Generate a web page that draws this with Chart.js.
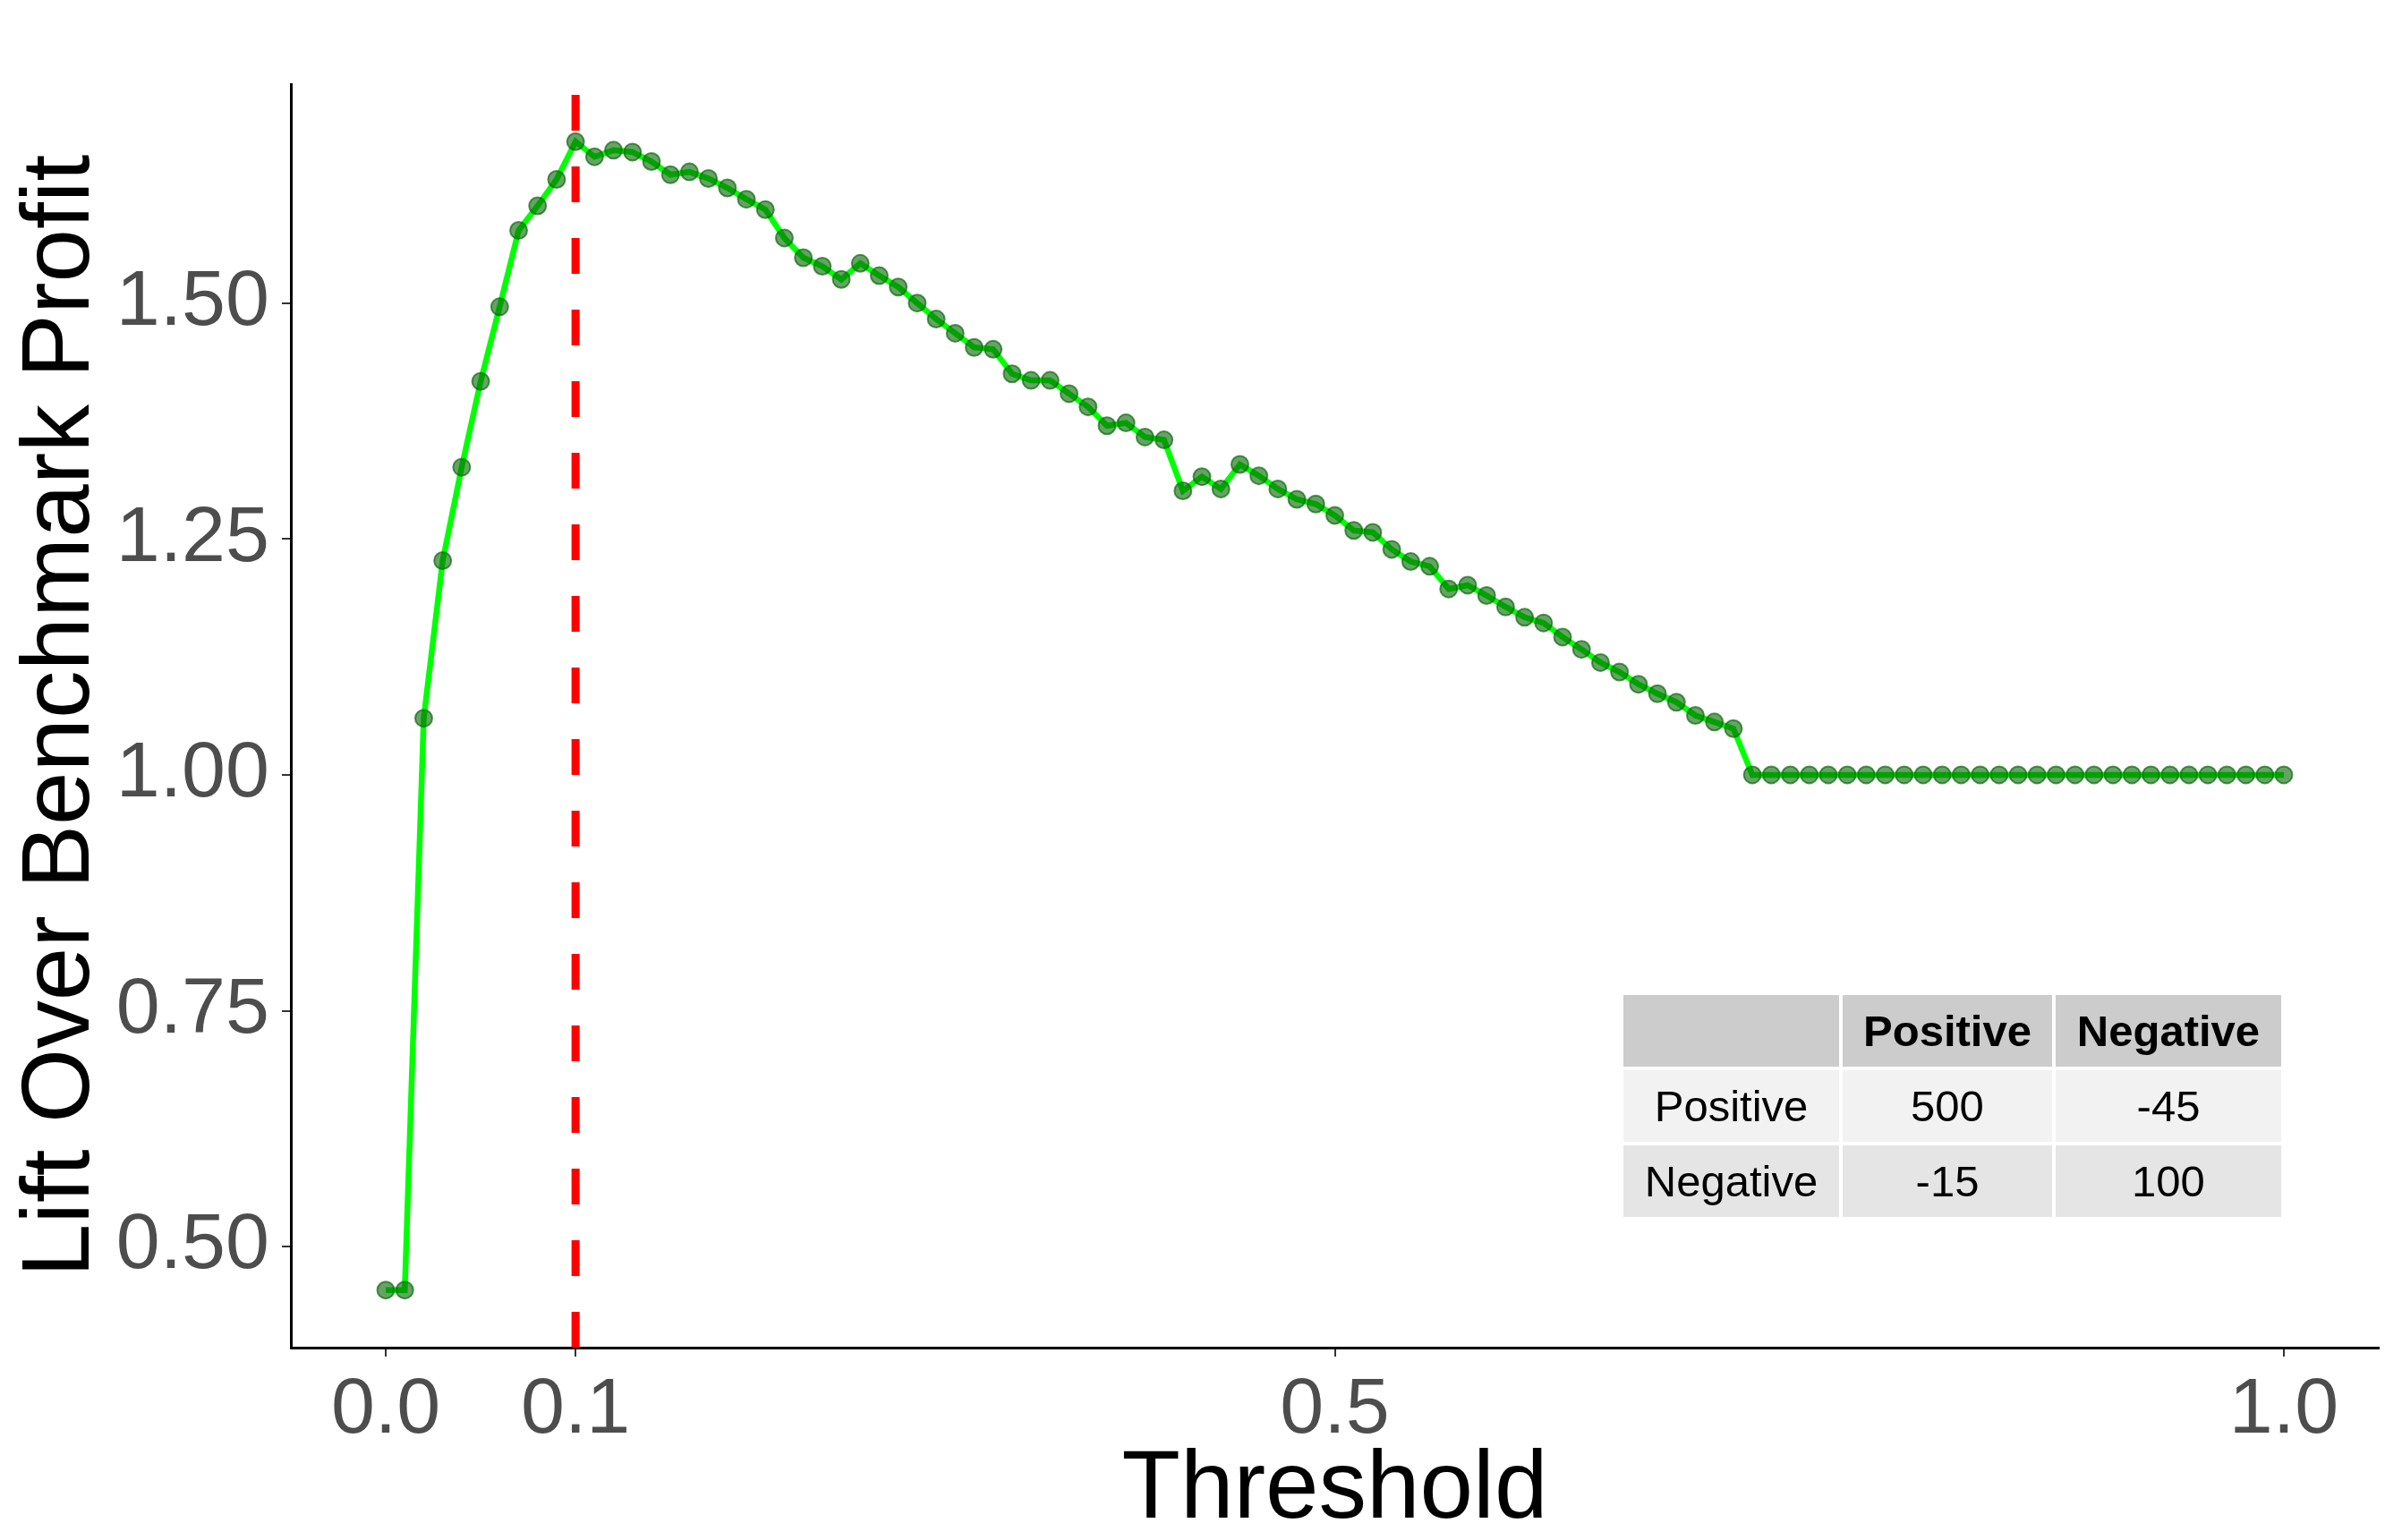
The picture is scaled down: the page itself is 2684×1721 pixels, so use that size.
<!DOCTYPE html>
<html>
<head>
<meta charset="utf-8">
<title>Lift Over Benchmark Profit</title>
<script src="https://cdn.jsdelivr.net/npm/chart.js@4.4.1/dist/chart.umd.min.js"></script>
<style>
  html, body { margin: 0; padding: 0; background: #fff; }
  #wrap { position: relative; width: 2684px; height: 1721px; }
  #payoff {
    position: absolute; left: 1810px; top: 1108px;
    border-collapse: separate; border-spacing: 4px;
    font-family: "Liberation Sans", Arial, sans-serif; font-size: 49px; color: #000;
  }
  #payoff th, #payoff td { padding: 0; height: 80px; text-align: center; vertical-align: middle; }
  #payoff th { background: #cccccc; font-weight: bold; }
  #payoff tr.r0 td { background: #f2f2f2; }
  #payoff tr.r1 td { background: #e5e5e5; }
</style>
</head>
<body>
<div id="wrap">
  <canvas id="liftChart" width="2684" height="1721"></canvas>
  <table id="payoff"></table>
</div>
<script>
// Threshold grid (x) and lift over benchmark (y)
const thresholds = [
  0.00, 0.01, 0.02, 0.03, 0.04, 0.05, 0.06, 0.07, 0.08, 0.09,
  0.10, 0.11, 0.12, 0.13, 0.14, 0.15, 0.16, 0.17, 0.18, 0.19,
  0.20, 0.21, 0.22, 0.23, 0.24, 0.25, 0.26, 0.27, 0.28, 0.29,
  0.30, 0.31, 0.32, 0.33, 0.34, 0.35, 0.36, 0.37, 0.38, 0.39,
  0.40, 0.41, 0.42, 0.43, 0.44, 0.45, 0.46, 0.47, 0.48, 0.49,
  0.50, 0.51, 0.52, 0.53, 0.54, 0.55, 0.56, 0.57, 0.58, 0.59,
  0.60, 0.61, 0.62, 0.63, 0.64, 0.65, 0.66, 0.67, 0.68, 0.69,
  0.70, 0.71, 0.72, 0.73, 0.74, 0.75, 0.76, 0.77, 0.78, 0.79,
  0.80, 0.81, 0.82, 0.83, 0.84, 0.85, 0.86, 0.87, 0.88, 0.89,
  0.90, 0.91, 0.92, 0.93, 0.94, 0.95, 0.96, 0.97, 0.98, 0.99,
  1.00
];
const lift = [
  0.454, 0.454, 1.060, 1.227, 1.326, 1.417, 1.496, 1.577, 1.603, 1.631,
  1.671, 1.655, 1.662, 1.660, 1.650, 1.636, 1.639, 1.632, 1.622, 1.610,
  1.599, 1.569, 1.548, 1.539, 1.525, 1.542, 1.529, 1.517, 1.500, 1.483,
  1.468, 1.453, 1.451, 1.425, 1.418, 1.418, 1.404, 1.390, 1.370, 1.373,
  1.358, 1.355, 1.301, 1.316, 1.303, 1.329, 1.317, 1.303, 1.292, 1.287,
  1.275, 1.259, 1.257, 1.239, 1.226, 1.221, 1.197, 1.201, 1.190, 1.178,
  1.167, 1.161, 1.146, 1.133, 1.119, 1.109, 1.096, 1.086, 1.077, 1.063,
  1.056, 1.049, 1.000, 1.000, 1.000, 1.000, 1.000, 1.000, 1.000, 1.000,
  1.000, 1.000, 1.000, 1.000, 1.000, 1.000, 1.000, 1.000, 1.000, 1.000,
  1.000, 1.000, 1.000, 1.000, 1.000, 1.000, 1.000, 1.000, 1.000, 1.000,
  1.000
];
const bestThreshold = 0.1; // red dashed line
const xTicks = [0.0, 0.1, 0.5, 1.0];
const yTicks = [0.50, 0.75, 1.00, 1.25, 1.50];

// Payoff matrix shown in the inset table
const tableHeader = ["", "Positive", "Negative"];
const rowLabels = ["Positive", "Negative"];
const payoffValues = [[500, -45], [-15, 100]];

const FONT = "'Liberation Sans', Arial, sans-serif";

// Build the inset table
function buildTable() {
  const widths = [241, 234, 252];
  const table = document.getElementById("payoff");
  let html = "<tr>" + tableHeader.map((h, i) => `<th style="width:${widths[i]}px">${h}</th>`).join("") + "</tr>";
  rowLabels.forEach((label, r) => {
    html += `<tr class="r${r}"><td>${label}</td>` + payoffValues[r].map(v => `<td>${v}</td>`).join("") + "</tr>";
  });
  table.innerHTML = html;
}

// Vertical dashed cutoff line, drawn under the points
const cutoffLine = {
  id: "cutoffLine",
  beforeDatasetsDraw(chart) {
    const { ctx, chartArea, scales } = chart;
    const x = scales.x.getPixelForValue(bestThreshold);
    ctx.save();
    ctx.strokeStyle = "#ff0000";
    ctx.lineWidth = 9;
    ctx.setLineDash([40, 40]);
    ctx.beginPath();
    ctx.moveTo(x, chartArea.bottom);
    ctx.lineTo(x, chartArea.top);
    ctx.stroke();
    ctx.restore();
  }
};

function initChart() {
  const points = thresholds.map((t, i) => ({ x: t, y: lift[i] }));
  const ctx = document.getElementById("liftChart").getContext("2d");

  new Chart(ctx, {
    type: "line",
    data: {
      datasets: [{
        data: points,
        borderColor: "#00ff00",
        borderWidth: 6.5,
        pointRadius: 9.5,
        pointBackgroundColor: "rgba(0, 100, 0, 0.6)",
        pointBorderColor: "rgba(0, 100, 0, 0.65)",
        pointBorderWidth: 2,
        tension: 0,
      }],
    },
    options: {
      responsive: false,
      animation: false,
      devicePixelRatio: 1,
      layout: { padding: { top: 94, right: 26, left: 0, bottom: 0 } },
      plugins: {
        legend: { display: false },
        tooltip: { enabled: false },
      },
      scales: {
        x: {
          type: "linear",
          min: -0.05,
          max: 1.05,
          afterBuildTicks: (axis) => { axis.ticks = xTicks.map(v => ({ value: v })); },
          afterFit: (scale) => { scale.height = 215; },
          ticks: {
            callback: (v) => v.toFixed(1),
            color: "#4d4d4d",
            font: { family: FONT, size: 88 },
            padding: 8,
            maxRotation: 0,
          },
          grid: { drawOnChartArea: false, drawTicks: true, tickLength: 10, color: "#333333", lineWidth: 2 },
          border: { display: true, color: "#000000", width: 3 },
          title: {
            display: true,
            text: "Threshold",
            color: "#000000",
            font: { family: FONT, size: 107 },
            padding: { top: 0, bottom: -10 },
          },
        },
        y: {
          min: 0.393,
          max: 1.732,
          afterBuildTicks: (axis) => { axis.ticks = yTicks.map(v => ({ value: v })); },
          afterFit: (scale) => { scale.width = 325; },
          ticks: {
            callback: (v) => v.toFixed(2),
            color: "#4d4d4d",
            font: { family: FONT, size: 88 },
            padding: 14,
          },
          grid: { drawOnChartArea: false, drawTicks: true, tickLength: 10, color: "#333333", lineWidth: 2 },
          border: { display: true, color: "#000000", width: 3 },
          title: {
            display: true,
            text: "Lift Over Benchmark Profit",
            color: "#000000",
            font: { family: FONT, size: 107 },
            padding: { top: 5, bottom: 0 },
          },
        },
      },
    },
    plugins: [cutoffLine],
  });
}

buildTable();
initChart();
</script>
</body>
</html>
